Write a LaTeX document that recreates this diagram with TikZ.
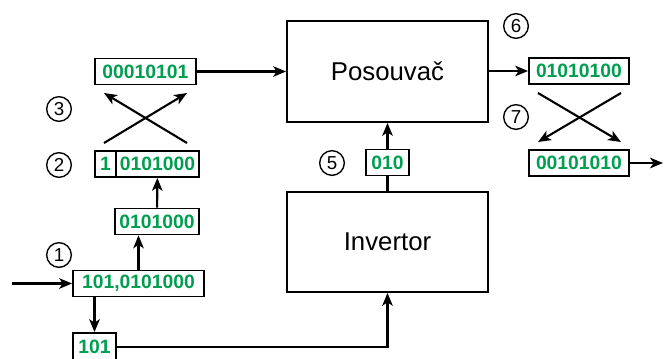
\documentclass[tikz,border=0pt]{standalone}
\usepackage{fontspec}
\setmainfont{Liberation Sans}
\usetikzlibrary{positioning, arrows.meta}
\definecolor{bitgreen}{RGB}{0,158,80}
\tikzset{>={Stealth[length=11pt,width=9pt,inset=3pt]}, % arrow heads like the drawing
link/.style={line width=1.8pt}, % connectors
block/.style={draw, line width=1.6pt, inner sep=0pt, minimum width=6.03cm, minimum height=3.03cm, font=\fontsize{22}{26}\selectfont}, % big units
bits/.style={draw, line width=1.6pt, inner sep=0pt, minimum height=0.78cm, text=bitgreen, font=\fontsize{16.5}{20}\selectfont\bfseries}, % registers
stepnum/.style={circle, draw, line width=1.2pt, inner sep=0pt, minimum size=0.74cm, font=\fontsize{16}{19}\selectfont}, % circled numbers
}
\begin{document}
\begin{tikzpicture}[x=0.03cm, y=-0.03cm]
    \useasboundingbox (0,0) rectangle (664,358);
    % blocks
    \node[block] (pos) at (387.5,71.5) {Posouvač};
    \node[block, minimum height=3cm] (inv) at (387.5,242) {Invertor};
    % left side registers
    \node[bits, minimum width=3.03cm] (r3) at (145.5,71.5) {00010101};
    \node[bits, minimum width=0.63cm] (r2a) at (105.5,164) {1};
    \node[bits, minimum width=2.49cm] (r2b) at (157.5,164) {0101000};
    \node[bits, minimum width=2.52cm] (rlow) at (157,221.5) {0101000};
    \node[bits, minimum width=3.93cm] (r1) at (138.5,283.5) {101,0101000};
    \node[bits, minimum width=1.29cm, minimum height=0.84cm] (rexp) at (94.5,347) {101};
    % right side registers
    \node[bits, minimum width=1.29cm] (r5) at (387.5,162.5) {010};
    \node[bits, minimum width=3cm] (r6) at (579,71) {01010100};
    \node[bits, minimum width=3cm] (r7) at (579,163) {00101010};
    % circled numbers
    \node[stepnum] (n1) at (59,255) {1};
    \node[stepnum] (n2) at (59,165) {2};
    \node[stepnum] (n3) at (59,109) {3};
    \node[stepnum] (n5) at (332,163) {5};
    \node[stepnum] (n6) at (516,26) {6};
    \node[stepnum] (n7) at (516,117) {7};
    % free ends
    \coordinate (in) at (12,283.5);
    \coordinate (out) at (663,163);
    \coordinate (xa) at (104,143);
    \coordinate (xb) at (187,143);
    \coordinate (xc) at (104,93);
    \coordinate (xd) at (187,93);
    \coordinate (ya) at (538,93);
    \coordinate (yb) at (621,93);
    \coordinate (yc) at (538,142);
    \coordinate (yd) at (621,142);
    % connectors
    \draw[link, ->] (in) -- (r1);
    \draw[link, ->] (r1.north) -- (r1.north |- rlow.south);
    \draw[link, ->] (rlow) -- (r2b);
    \draw[link, ->] (xa) -- (xd);
    \draw[link, ->] (xb) -- (xc);
    \draw[link, ->] (r3) -- (pos);
    \draw[link, ->] (rexp.north |- r1.south) -- (rexp.north);
    \draw[link, ->] (rexp.east) -| (inv.south);
    \draw[link] (inv) -- (r5);
    \draw[link, ->] (r5) -- (pos);
    \draw[link, ->] (pos.east |- r6) -- (r6);
    \draw[link, ->] (ya) -- (yd);
    \draw[link, ->] (yb) -- (yc);
    \draw[link, ->] (r7) -- (out);
\end{tikzpicture}
\end{document}
